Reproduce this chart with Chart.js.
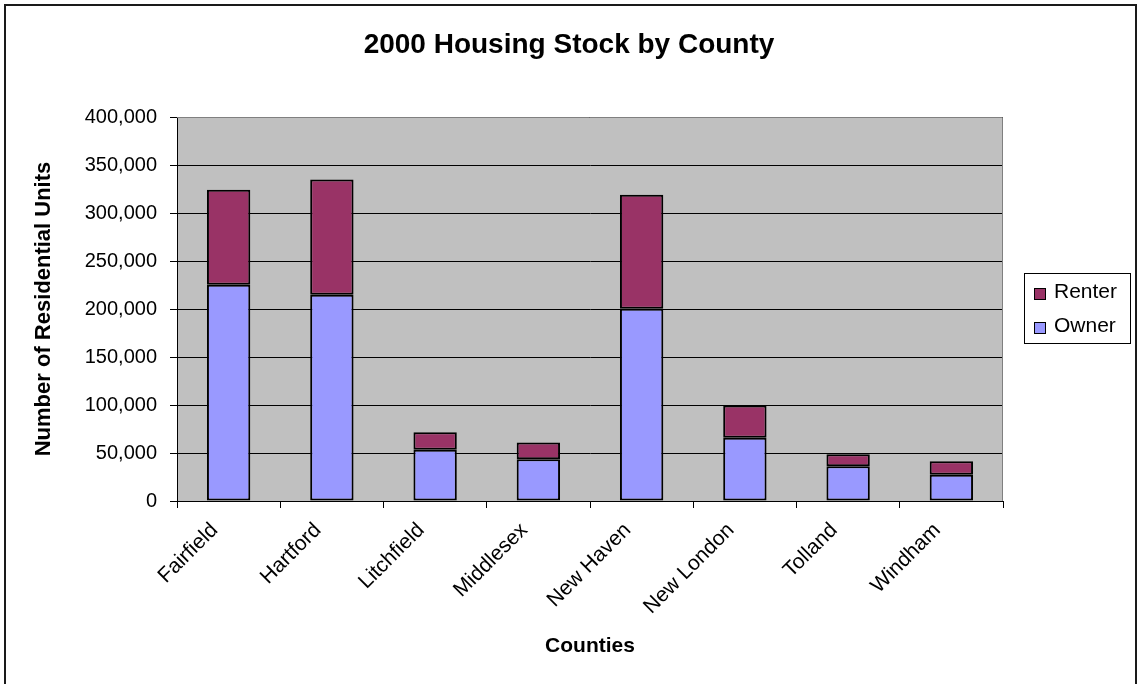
<!DOCTYPE html>
<html>
<head>
<meta charset="utf-8">
<title>2000 Housing Stock by County</title>
<script src="https://cdn.jsdelivr.net/npm/chart.js@4.4.1/dist/chart.umd.min.js"></script>
<style>
  html, body { margin: 0; padding: 0; background: #ffffff; }
  #wrap { width: 1138px; height: 684px; position: relative; }
</style>
</head>
<body>
<div id="wrap"><canvas id="housing" width="1138" height="684"></canvas></div>
<script>
// Connecticut counties, 2000 census housing units
const counties = ['Fairfield', 'Hartford', 'Litchfield', 'Middlesex', 'New Haven', 'New London', 'Tolland', 'Windham'];
const ownerUnits = [225300, 214900, 53400, 43400, 200300, 65900, 36100, 27400];
const renterUnits = [99000, 120100, 18100, 17600, 118800, 33700, 12500, 13900];
const yTicks = [0, 50000, 100000, 150000, 200000, 250000, 300000, 350000, 400000];

const chartTitle = '2000 Housing Stock by County';
const yTitle = 'Number of Residential Units';
const xTitle = 'Counties';

const FONT = '"Liberation Sans", Arial, Helvetica, sans-serif';

// White page, outer frame, grey plot area
const backdrop = {
  id: 'backdrop',
  beforeDraw(chart) {
    const { ctx, chartArea: a } = chart;
    ctx.save();
    ctx.fillStyle = '#ffffff';
    ctx.fillRect(0, 0, chart.width, chart.height);
    ctx.strokeStyle = '#1a1a1a';
    ctx.lineWidth = 2;
    ctx.beginPath();
    ctx.moveTo(5, chart.height + 2);
    ctx.lineTo(5, 5);
    ctx.lineTo(1136, 5);
    ctx.lineTo(1136, chart.height + 2);
    ctx.stroke();
    ctx.fillStyle = '#c0c0c0';
    ctx.fillRect(a.left, a.top, a.right - a.left, a.bottom - a.top);
    ctx.restore();
  },
  beforeDatasetsDraw(chart) {
    const { ctx, chartArea: a } = chart;
    ctx.save();
    ctx.strokeStyle = '#808080';
    ctx.lineWidth = 1;
    ctx.beginPath();
    ctx.moveTo(a.left, a.top + 0.5);
    ctx.lineTo(a.right - 0.5, a.top + 0.5);
    ctx.lineTo(a.right - 0.5, a.bottom);
    ctx.stroke();
    ctx.restore();
  }
};

// Centered chart heading
const heading = {
  id: 'heading',
  afterDraw(chart) {
    const { ctx } = chart;
    ctx.save();
    ctx.fillStyle = '#000000';
    ctx.font = 'bold 28px ' + FONT;
    ctx.textAlign = 'center';
    ctx.textBaseline = 'middle';
    ctx.fillText(chartTitle, chart.width / 2, 45);
    ctx.restore();
  }
};

// Boxed legend on the right, series listed top of stack first
const boxLegend = {
  id: 'boxLegend',
  afterDraw(chart) {
    const { ctx } = chart;
    const box = { x: 1024, y: 273, w: 106, h: 70 };
    ctx.save();
    ctx.fillStyle = '#ffffff';
    ctx.fillRect(box.x, box.y, box.w, box.h);
    ctx.strokeStyle = '#000000';
    ctx.lineWidth = 1;
    ctx.strokeRect(box.x + 0.5, box.y + 0.5, box.w, box.h);
    ctx.font = '21px ' + FONT;
    ctx.textBaseline = 'middle';
    ctx.textAlign = 'left';
    const items = chart.data.datasets.slice().reverse();
    items.forEach((ds, i) => {
      const cy = box.y + 19 + i * 34;
      ctx.fillStyle = ds.backgroundColor;
      ctx.fillRect(box.x + 10, cy - 4, 12, 12);
      ctx.strokeStyle = '#000000';
      ctx.strokeRect(box.x + 10.5, cy - 3.5, 11, 11);
      ctx.fillStyle = '#000000';
      ctx.fillText(ds.label, box.x + 30, cy);
    });
    ctx.restore();
  }
};

new Chart(document.getElementById('housing'), {
  type: 'bar',
  data: {
    labels: counties,
    datasets: [
      {
        label: 'Owner',
        data: ownerUnits,
        backgroundColor: '#9999ff',
        borderColor: '#000000',
        borderWidth: 2,
        borderSkipped: false
      },
      {
        label: 'Renter',
        data: renterUnits,
        backgroundColor: '#993366',
        borderColor: '#000000',
        borderWidth: 2,
        borderSkipped: false
      }
    ]
  },
  options: {
    responsive: false,
    animation: false,
    events: [],
    layout: { padding: { top: 117, right: 135, bottom: 0, left: 0 } },
    datasets: { bar: { barPercentage: 0.42, categoryPercentage: 1.0 } },
    plugins: {
      legend: { display: false },
      title: { display: false },
      tooltip: { enabled: false }
    },
    scales: {
      x: {
        stacked: true,
        afterFit(s) { s.height = 183; },
        grid: {
          display: true,
          drawOnChartArea: false,
          offset: true,
          tickLength: 7,
          color: '#000000',
          lineWidth: 1
        },
        border: { display: true, color: '#000000', width: 1 },
        ticks: {
          color: '#000000',
          font: { family: FONT, size: 21 },
          minRotation: 45,
          maxRotation: 45,
          autoSkip: false,
          padding: 10,
          labelOffset: -14
        },
        title: {
          display: true,
          text: xTitle,
          color: '#000000',
          font: { family: FONT, size: 21, weight: 'bold' },
          padding: { top: 0, bottom: 25 }
        }
      },
      y: {
        stacked: true,
        min: yTicks[0],
        max: yTicks[yTicks.length - 1],
        afterFit(s) { s.width = 177; },
        afterBuildTicks(s) { s.ticks = yTicks.map(v => ({ value: v })); },
        grid: {
          color: '#000000',
          lineWidth: 1,
          tickLength: 7,
          drawTicks: true
        },
        border: { display: true, color: '#000000', width: 1 },
        ticks: {
          color: '#000000',
          font: { family: FONT, size: 20 },
          padding: 13,
          callback: v => Number(v).toLocaleString('en-US')
        },
        title: {
          display: true,
          text: yTitle,
          color: '#000000',
          font: { family: FONT, size: 22, weight: 'bold' },
          padding: { top: 31, bottom: 0 }
        }
      }
    }
  },
  plugins: [backdrop, heading, boxLegend]
});
</script>
</body>
</html>
